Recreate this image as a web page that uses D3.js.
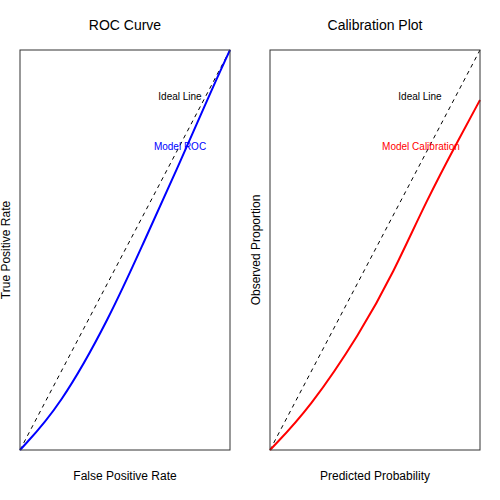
<!DOCTYPE html><html><head><script src="https://cdn.jsdelivr.net/npm/d3@7"></script>
<style>body{margin:0;background:#fff}text{font-family:"Liberation Sans",Arial,sans-serif}</style></head><body>
<svg id="c" width="500" height="500"></svg>
<script>
const rocX=[0,0.19,0.429,0.587,0.746,0.905,1];
const rocY=[0,0.108,0.333,0.517,0.70,0.892,1];
const calX=[0,0.19,0.429,0.587,0.746,0.905,1];
const calY=[0,0.105,0.292,0.442,0.625,0.783,0.875];
const idealX=[0,1],idealY=[0,1];
const panels=[
 {title:"ROC Curve",xl:"False Positive Rate",yl:"True Positive Rate",x0:20,xs:rocX,ys:rocY,color:"blue",lab:"Model ROC",ix:160,lx:160},
 {title:"Calibration Plot",xl:"Predicted Probability",yl:"Observed Proportion",x0:270,xs:calX,ys:calY,color:"red",lab:"Model Calibration",ix:150,lx:151}];
const svg=d3.select("#c");
panels.forEach(p=>{
 const x=d3.scaleLinear([0,1],[p.x0,p.x0+210]), y=d3.scaleLinear([0,1],[450,50]);
 const g=svg.append("g");
 g.append("text").attr("x",p.x0+105).attr("y",30).attr("text-anchor","middle").attr("font-size",14).text(p.title);
 g.append("text").attr("x",p.x0+105).attr("y",480).attr("text-anchor","middle").attr("font-size",12).text(p.xl);
 g.append("text").attr("transform",`translate(${p.x0-10},250) rotate(-90)`).attr("text-anchor","middle").attr("font-size",12).text(p.yl);
 const line=d3.line().x(d=>x(d[0])).y(d=>y(d[1]));
 g.append("path").attr("d",line(idealX.map((v,i)=>[v,idealY[i]]))).attr("stroke","#000").attr("stroke-dasharray","4,4").attr("fill","none");
 g.append("path").attr("d",line.curve(d3.curveBasis)(p.xs.map((v,i)=>[v,p.ys[i]]))).attr("stroke",p.color).attr("stroke-width",2).attr("fill","none");
 g.append("rect").attr("x",p.x0).attr("y",50).attr("width",210).attr("height",400).attr("fill","none").attr("stroke","#333");
 g.append("text").attr("x",p.x0+p.ix).attr("y",100).attr("text-anchor","middle").attr("font-size",10).text("Ideal Line");
 g.append("text").attr("x",p.x0+p.lx).attr("y",150).attr("text-anchor","middle").attr("font-size",10).attr("fill",p.color).text(p.lab);
});
</script></body></html>
